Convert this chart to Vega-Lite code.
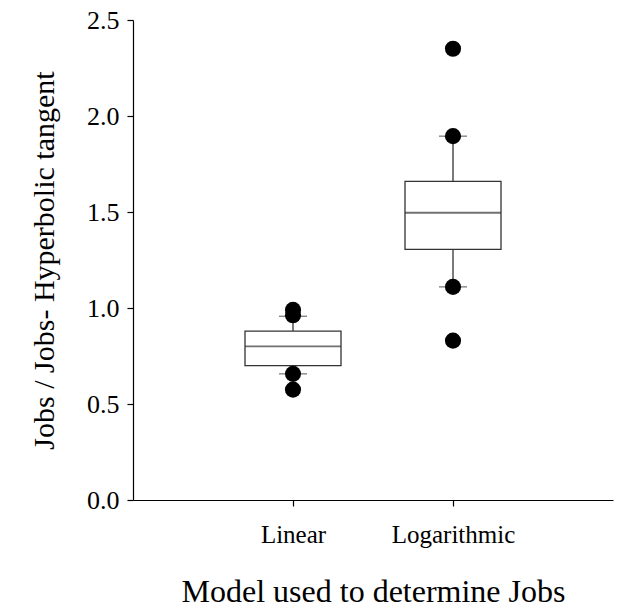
{
  "$schema": "https://vega.github.io/schema/vega-lite/v6.json",
  "width": 480,
  "height": 480,
  "autosize": {"type": "none"},
  "padding": {"left": 133, "top": 20, "right": 6, "bottom": 115},
  "background": "white",
  "config": {
    "view": {"stroke": null},
    "font": "Liberation Serif",
    "axis": {
      "grid": false,
      "domainColor": "black",
      "tickColor": "black",
      "domainWidth": 1.2,
      "tickWidth": 1.2,
      "labelColor": "black",
      "titleColor": "black",
      "labelFont": "Liberation Serif",
      "titleFont": "Liberation Serif",
      "titleFontWeight": "normal"
    }
  },
  "datasets": {
    "boxes": [
      {"model": "Linear", "lo": 0.657, "q1": 0.70, "median": 0.80, "q3": 0.88, "hi": 0.957},
      {"model": "Logarithmic", "lo": 1.11, "q1": 1.305, "median": 1.496, "q3": 1.66, "hi": 1.895}
    ],
    "outliers": [
      {"model": "Linear", "value": 0.99},
      {"model": "Linear", "value": 0.962},
      {"model": "Linear", "value": 0.657},
      {"model": "Linear", "value": 0.575},
      {"model": "Logarithmic", "value": 2.35},
      {"model": "Logarithmic", "value": 1.895},
      {"model": "Logarithmic", "value": 1.11},
      {"model": "Logarithmic", "value": 0.83}
    ]
  },
  "encoding": {
    "x": {
      "field": "model",
      "type": "nominal",
      "sort": ["Linear", "Logarithmic"],
      "scale": {"type": "point", "domain": ["Linear", "Logarithmic"], "padding": 1},
      "axis": {
        "title": "Model used to determine Jobs",
        "labelAngle": 0,
        "labelFontSize": 25,
        "titleFontSize": 32,
        "tickSize": 6,
        "labelPadding": 16,
        "titlePadding": 29
      }
    }
  },
  "layer": [
    {
      "data": {"name": "boxes"},
      "mark": {"type": "rule", "color": "#333333", "strokeWidth": 1.3},
      "encoding": {
        "y": {
          "field": "lo",
          "type": "quantitative",
          "scale": {"domain": [0, 2.5], "nice": false},
          "axis": {
            "title": "Jobs / Jobs- Hyperbolic tangent",
            "values": [0, 0.5, 1, 1.5, 2, 2.5],
            "format": ".1f",
            "labelFontSize": 26,
            "titleFontSize": 30,
            "tickSize": 6,
            "labelPadding": 8,
            "titlePadding": 27
          }
        },
        "y2": {"field": "hi"}
      }
    },
    {
      "data": {"name": "boxes"},
      "mark": {"type": "bar", "size": 96, "fill": "white", "stroke": "#333333", "strokeWidth": 1.3},
      "encoding": {
        "y": {"field": "q1", "type": "quantitative"},
        "y2": {"field": "q3"}
      }
    },
    {
      "data": {"name": "boxes"},
      "mark": {"type": "tick", "size": 96, "thickness": 1.8, "color": "#333333", "orient": "horizontal"},
      "encoding": {
        "y": {"field": "median", "type": "quantitative"}
      }
    },
    {
      "data": {"name": "boxes"},
      "mark": {"type": "tick", "size": 28, "thickness": 1.2, "color": "#333333", "orient": "horizontal"},
      "encoding": {
        "y": {"field": "lo", "type": "quantitative"}
      }
    },
    {
      "data": {"name": "boxes"},
      "mark": {"type": "tick", "size": 28, "thickness": 1.2, "color": "#333333", "orient": "horizontal"},
      "encoding": {
        "y": {"field": "hi", "type": "quantitative"}
      }
    },
    {
      "data": {"name": "outliers"},
      "mark": {"type": "circle", "size": 260, "color": "black", "opacity": 1},
      "encoding": {
        "y": {"field": "value", "type": "quantitative"}
      }
    }
  ]
}
